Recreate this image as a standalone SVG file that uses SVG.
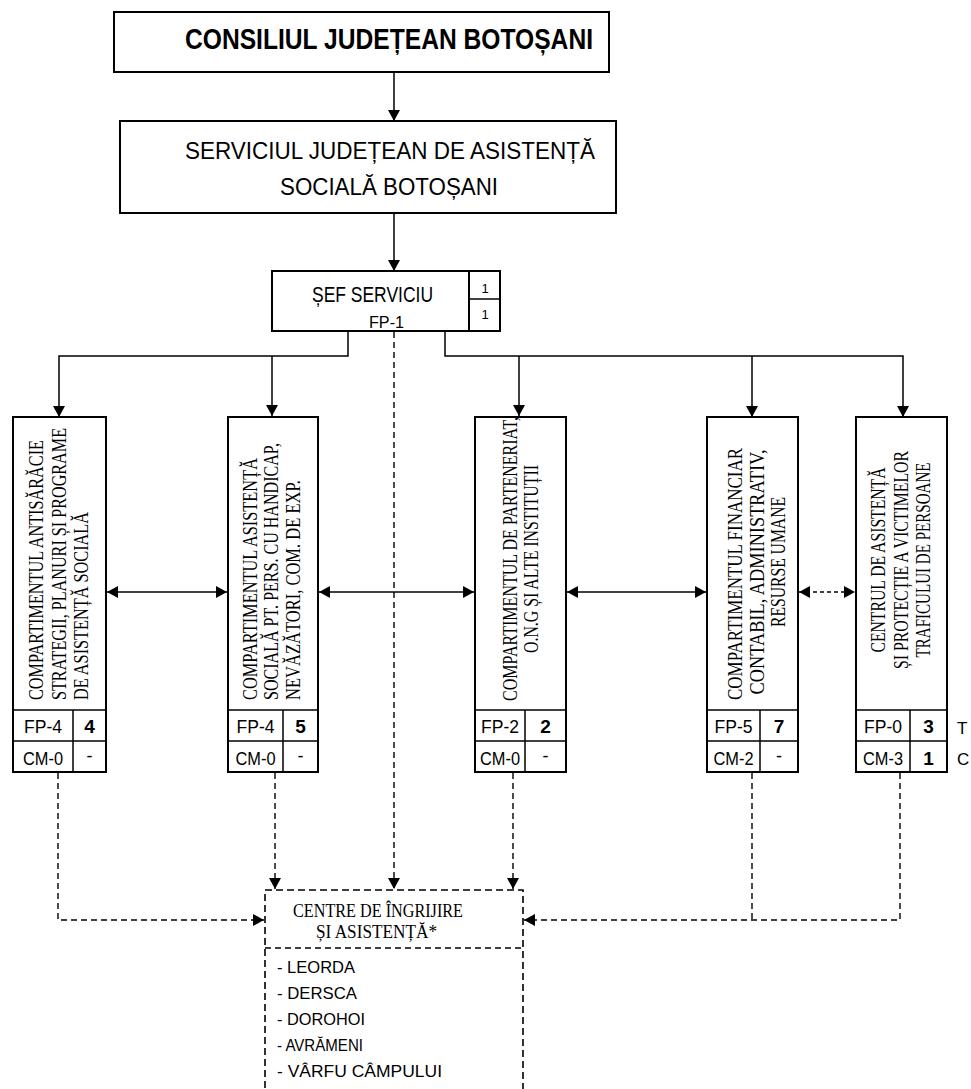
<svg xmlns="http://www.w3.org/2000/svg" width="971" height="1089" viewBox="0 0 971 1089">
<style>
.box{fill:#fff;stroke:#000;stroke-width:2}
.cell{fill:none;stroke:#000;stroke-width:1.5}
.ln{stroke:#000;stroke-width:1.5;fill:none}
.dash{stroke:#000;stroke-width:1.4;stroke-dasharray:6 4;fill:none}
.dbox{fill:#fff;stroke:#000;stroke-width:1.6;stroke-dasharray:7 4}
.serif{font-family:"Liberation Serif","Times New Roman",serif;fill:#000}
.sans{font-family:"Liberation Sans",Arial,sans-serif;fill:#000}
.rot{font-size:22px}
.lab{font-size:18px}
.num{font-size:19px;font-weight:bold}
</style>
<defs>
<marker id="ah" markerUnits="userSpaceOnUse" markerWidth="12" markerHeight="12" refX="11" refY="6" orient="auto-start-reverse">
<path d="M0,0 L11,6 L0,12 z" fill="#000"/>
</marker>
</defs>

<g id="connectors">
<line class="ln" x1="394" y1="72" x2="394" y2="121" marker-end="url(#ah)"/>
<line class="ln" x1="394" y1="213" x2="394" y2="271" marker-end="url(#ah)"/>
<polyline class="ln" points="348,331 348,356 59,356 59,417" marker-end="url(#ah)"/>
<line class="ln" x1="272" y1="356" x2="272" y2="416" marker-end="url(#ah)"/>
<polyline class="ln" points="445,331 445,356 903,356 903,417" marker-end="url(#ah)"/>
<line class="ln" x1="519" y1="356" x2="519" y2="416" marker-end="url(#ah)"/>
<line class="ln" x1="752" y1="356" x2="752" y2="417" marker-end="url(#ah)"/>
<line class="ln" x1="107" y1="592" x2="227" y2="592" marker-start="url(#ah)" marker-end="url(#ah)"/>
<line class="ln" x1="319" y1="592" x2="474" y2="592" marker-start="url(#ah)" marker-end="url(#ah)"/>
<line class="ln" x1="567" y1="592" x2="706" y2="592" marker-start="url(#ah)" marker-end="url(#ah)"/>
<line class="ln" x1="799" y1="592" x2="855" y2="592" stroke-dasharray="4 3" marker-start="url(#ah)" marker-end="url(#ah)"/>
<line class="dash" x1="394" y1="332" x2="394" y2="889" marker-end="url(#ah)"/>
<line class="dash" x1="275" y1="773" x2="275" y2="889" marker-end="url(#ah)"/>
<line class="dash" x1="513" y1="773" x2="513" y2="889" marker-end="url(#ah)"/>
<polyline class="dash" points="58,773 58,920 264,920" marker-end="url(#ah)"/>
<polyline class="dash" points="900,773 900,920 524,920" marker-end="url(#ah)"/>
<line class="dash" x1="752" y1="773" x2="752" y2="920"/>
</g>

<g id="consiliul">
<rect class="box" x="114" y="12" width="495" height="60"/>
<text class="sans" x="185" y="49" font-size="29" font-weight="bold" textLength="408" lengthAdjust="spacingAndGlyphs">CONSILIUL JUDEȚEAN BOTOȘANI</text>
</g>

<g id="serviciul">
<rect class="box" x="120" y="121" width="496" height="92"/>
<text class="sans" x="185" y="159" font-size="23" textLength="410" lengthAdjust="spacingAndGlyphs">SERVICIUL JUDEȚEAN DE ASISTENȚĂ</text>
<text class="sans" x="280" y="195" font-size="23" textLength="218" lengthAdjust="spacingAndGlyphs">SOCIALĂ BOTOȘANI</text>
</g>

<g id="sef">
<rect class="box" x="272" y="271" width="197" height="60"/>
<rect class="box" x="469" y="271" width="31" height="60"/>
<line class="cell" x1="469" y1="299" x2="500" y2="299"/>
<text class="sans" x="312" y="302" font-size="22" textLength="121" lengthAdjust="spacingAndGlyphs">ȘEF SERVICIU</text>
<text class="sans" x="369" y="328" font-size="17" textLength="35" lengthAdjust="spacingAndGlyphs">FP-1</text>
<text class="sans" x="485" y="293" font-size="13" text-anchor="middle">1</text>
<text class="sans" x="485" y="319" font-size="13" text-anchor="middle">1</text>
</g>

<g id="comp1">
<rect class="box" x="13" y="417" width="93" height="355"/>
<line class="cell" x1="13" y1="710" x2="106" y2="710"/>
<line class="cell" x1="13" y1="741" x2="106" y2="741"/>
<line class="cell" x1="73" y1="710" x2="73" y2="772"/>
<text class="serif rot" transform="translate(43,700) rotate(-90)" textLength="260" lengthAdjust="spacingAndGlyphs">COMPARTIMENTUL ANTISĂRĂCIE</text>
<text class="serif rot" transform="translate(66,700) rotate(-90)" textLength="272" lengthAdjust="spacingAndGlyphs">STRATEGII, PLANURI ȘI PROGRAME</text>
<text class="serif rot" transform="translate(88,700) rotate(-90)" textLength="188" lengthAdjust="spacingAndGlyphs">DE ASISTENȚĂ SOCIALĂ</text>
<text class="sans lab" x="43" y="733" text-anchor="middle" textLength="38" lengthAdjust="spacingAndGlyphs">FP-4</text>
<text class="sans num" x="89.5" y="733" text-anchor="middle">4</text>
<text class="sans lab" x="43" y="765" text-anchor="middle" textLength="40" lengthAdjust="spacingAndGlyphs">CM-0</text>
<text class="sans lab" x="89.5" y="762" text-anchor="middle">-</text>
</g>

<g id="comp2">
<rect class="box" x="228" y="417" width="90" height="355"/>
<line class="cell" x1="228" y1="710" x2="318" y2="710"/>
<line class="cell" x1="228" y1="741" x2="318" y2="741"/>
<line class="cell" x1="283" y1="710" x2="283" y2="772"/>
<text class="serif rot" transform="translate(257,700) rotate(-90)" textLength="242" lengthAdjust="spacingAndGlyphs">COMPARTIMENTUL ASISTENȚĂ</text>
<text class="serif rot" transform="translate(278,700) rotate(-90)" textLength="257" lengthAdjust="spacingAndGlyphs">SOCIALĂ PT. PERS. CU HANDICAP,</text>
<text class="serif rot" transform="translate(300,700) rotate(-90)" textLength="220" lengthAdjust="spacingAndGlyphs">NEVĂZĂTORI, COM. DE EXP.</text>
<text class="sans lab" x="255.5" y="733" text-anchor="middle" textLength="38" lengthAdjust="spacingAndGlyphs">FP-4</text>
<text class="sans num" x="300.5" y="733" text-anchor="middle">5</text>
<text class="sans lab" x="255.5" y="765" text-anchor="middle" textLength="40" lengthAdjust="spacingAndGlyphs">CM-0</text>
<text class="sans lab" x="300.5" y="762" text-anchor="middle">-</text>
</g>

<g id="comp3">
<rect class="box" x="475" y="417" width="91" height="355"/>
<line class="cell" x1="475" y1="710" x2="566" y2="710"/>
<line class="cell" x1="475" y1="741" x2="566" y2="741"/>
<line class="cell" x1="525" y1="710" x2="525" y2="772"/>
<text class="serif rot" transform="translate(517,559) rotate(-90)" text-anchor="middle" textLength="284" lengthAdjust="spacingAndGlyphs">COMPARTIMENTUL DE PARTENERIAT,</text>
<text class="serif rot" transform="translate(538,559) rotate(-90)" text-anchor="middle" textLength="188" lengthAdjust="spacingAndGlyphs">O.N.G ȘI ALTE INSTITUȚII</text>
<text class="sans lab" x="500" y="733" text-anchor="middle" textLength="38" lengthAdjust="spacingAndGlyphs">FP-2</text>
<text class="sans num" x="545.5" y="733" text-anchor="middle">2</text>
<text class="sans lab" x="500" y="765" text-anchor="middle" textLength="40" lengthAdjust="spacingAndGlyphs">CM-0</text>
<text class="sans lab" x="545.5" y="762" text-anchor="middle">-</text>
</g>

<g id="comp4">
<rect class="box" x="707" y="417" width="91" height="355"/>
<line class="cell" x1="707" y1="710" x2="798" y2="710"/>
<line class="cell" x1="707" y1="741" x2="798" y2="741"/>
<line class="cell" x1="760" y1="710" x2="760" y2="772"/>
<text class="serif rot" transform="translate(742,574) rotate(-90)" text-anchor="middle" textLength="252" lengthAdjust="spacingAndGlyphs">COMPARTIMENTUL FINANCIAR</text>
<text class="serif rot" transform="translate(764,572) rotate(-90)" text-anchor="middle" textLength="245" lengthAdjust="spacingAndGlyphs">CONTABIL, ADMINISTRATIV,</text>
<text class="serif rot" transform="translate(785,562) rotate(-90)" text-anchor="middle" textLength="130" lengthAdjust="spacingAndGlyphs">RESURSE UMANE</text>
<text class="sans lab" x="733.5" y="733" text-anchor="middle" textLength="38" lengthAdjust="spacingAndGlyphs">FP-5</text>
<text class="sans num" x="779" y="733" text-anchor="middle">7</text>
<text class="sans lab" x="733.5" y="765" text-anchor="middle" textLength="40" lengthAdjust="spacingAndGlyphs">CM-2</text>
<text class="sans lab" x="779" y="762" text-anchor="middle">-</text>
</g>

<g id="comp5">
<rect class="box" x="856" y="417" width="91" height="355"/>
<line class="cell" x1="856" y1="710" x2="947" y2="710"/>
<line class="cell" x1="856" y1="741" x2="947" y2="741"/>
<line class="cell" x1="910" y1="710" x2="910" y2="772"/>
<text class="serif rot" transform="translate(885,560) rotate(-90)" text-anchor="middle" textLength="185" lengthAdjust="spacingAndGlyphs">CENTRUL DE ASISTENȚĂ</text>
<text class="serif rot" transform="translate(908,560) rotate(-90)" text-anchor="middle" textLength="218" lengthAdjust="spacingAndGlyphs">ȘI PROTECȚIE A VICTIMELOR</text>
<text class="serif rot" transform="translate(930,560) rotate(-90)" text-anchor="middle" textLength="195" lengthAdjust="spacingAndGlyphs">TRAFICULUI DE PERSOANE</text>
<text class="sans lab" x="883" y="733" text-anchor="middle" textLength="38" lengthAdjust="spacingAndGlyphs">FP-0</text>
<text class="sans num" x="928.5" y="733" text-anchor="middle">3</text>
<text class="sans lab" x="883" y="765" text-anchor="middle" textLength="40" lengthAdjust="spacingAndGlyphs">CM-3</text>
<text class="sans num" x="928.5" y="765" text-anchor="middle">1</text>
<text class="sans" x="957" y="734" font-size="17">T</text>
<text class="sans" x="957" y="765" font-size="17">C</text>
</g>

<g id="centre">
<rect class="dbox" x="265" y="890" width="258" height="215"/>
<line class="dash" x1="265" y1="948" x2="523" y2="948"/>
<text class="serif" x="293" y="917" font-size="18" textLength="170" lengthAdjust="spacingAndGlyphs">CENTRE DE ÎNGRIJIRE</text>
<text class="serif" x="316" y="938" font-size="18" textLength="121" lengthAdjust="spacingAndGlyphs">ȘI ASISTENȚĂ*</text>
<text class="sans" x="277" y="973" font-size="17" textLength="78" lengthAdjust="spacingAndGlyphs">- LEORDA</text>
<text class="sans" x="277" y="999" font-size="17" textLength="80" lengthAdjust="spacingAndGlyphs">- DERSCA</text>
<text class="sans" x="277" y="1025" font-size="17" textLength="88" lengthAdjust="spacingAndGlyphs">- DOROHOI</text>
<text class="sans" x="277" y="1051" font-size="17" textLength="86" lengthAdjust="spacingAndGlyphs">- AVRĂMENI</text>
<text class="sans" x="277" y="1077" font-size="17" textLength="165" lengthAdjust="spacingAndGlyphs">- VÂRFU CÂMPULUI</text>
</g>
</svg>
